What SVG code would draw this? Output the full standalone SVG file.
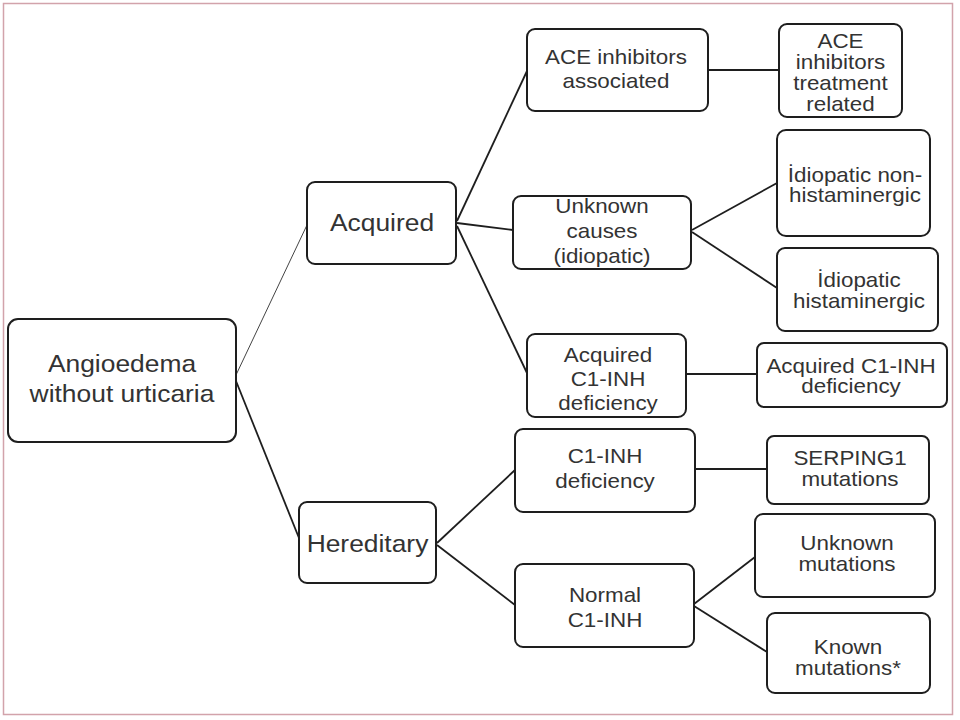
<svg xmlns="http://www.w3.org/2000/svg" width="960" height="720" viewBox="0 0 960 720">
<style>
.box{fill:#fff;stroke:#1e1e1e;stroke-width:2}
.ln{fill:none;stroke:#1e1e1e;stroke-width:1.8}
.thin{fill:none;stroke:#444;stroke-width:1}
.t1{font-family:"Liberation Sans",Arial,sans-serif;font-size:24px;fill:#333;text-anchor:middle}
.t2{font-family:"Liberation Sans",Arial,sans-serif;font-size:20px;fill:#333;text-anchor:middle}
</style>
<rect x="0" y="0" width="960" height="720" fill="#fff"/>
<rect x="3.5" y="3.5" width="949" height="711" fill="none" stroke="#d2a3ab" stroke-width="1.5"/>
<g id="connectors">
<line class="thin" x1="236" y1="375" x2="307" y2="225"/>
<line class="ln" x1="236" y1="381" x2="299" y2="538"/>
<line class="ln" x1="457" y1="221" x2="527" y2="71"/>
<line class="ln" x1="457" y1="223" x2="513" y2="230"/>
<line class="ln" x1="457" y1="226" x2="527" y2="373"/>
<line class="ln" x1="708" y1="70" x2="779" y2="70"/>
<line class="ln" x1="692" y1="230" x2="777" y2="183"/>
<line class="ln" x1="692" y1="232" x2="777" y2="288"/>
<line class="ln" x1="686" y1="374" x2="757" y2="374"/>
<line class="ln" x1="437" y1="543" x2="515" y2="470"/>
<line class="ln" x1="437" y1="545" x2="515" y2="605"/>
<line class="ln" x1="695" y1="469" x2="767" y2="469"/>
<line class="ln" x1="694" y1="604" x2="755" y2="557"/>
<line class="ln" x1="694" y1="606" x2="767" y2="652"/>
</g>
<g id="n-angioedema">
<rect class="box" x="8" y="319" width="228" height="123" rx="10"/>
<text class="t1" transform="translate(122 0) scale(1.1 1)"><tspan x="0" y="372">Angioedema</tspan><tspan x="0" y="402">without urticaria</tspan></text>
</g>
<g id="n-acquired">
<rect class="box" x="307" y="182" width="149" height="82" rx="8"/>
<text class="t1" transform="translate(382 0) scale(1.1 1)"><tspan x="0" y="231">Acquired</tspan></text>
</g>
<g id="n-hereditary">
<rect class="box" x="299" y="502" width="137" height="81" rx="8"/>
<text class="t1" transform="translate(367.5 0) scale(1.1 1)"><tspan x="0" y="552">Hereditary</tspan></text>
</g>
<g id="n-ace-assoc">
<rect class="box" x="527" y="29" width="181" height="82" rx="8"/>
<text class="t2" transform="translate(616 0) scale(1.12 1)"><tspan x="0" y="64">ACE inhibitors</tspan><tspan x="0" y="88">associated</tspan></text>
</g>
<g id="n-ace-treat">
<rect class="box" x="779" y="24" width="123" height="93" rx="8"/>
<text class="t2" transform="translate(840.5 0) scale(1.12 1)"><tspan x="0" y="48">ACE</tspan><tspan x="0" y="69">inhibitors</tspan><tspan x="0" y="90">treatment</tspan><tspan x="0" y="111">related</tspan></text>
</g>
<g id="n-unknown-causes">
<rect class="box" x="513" y="196" width="178" height="73" rx="8"/>
<text class="t2" transform="translate(602 0) scale(1.12 1)"><tspan x="0" y="213">Unknown</tspan><tspan x="0" y="238">causes</tspan><tspan x="0" y="263">(idiopatic)</tspan></text>
</g>
<g id="n-idio-non">
<rect class="box" x="777" y="130" width="153" height="106" rx="9"/>
<text class="t2" transform="translate(855 0) scale(1.12 1)"><tspan x="0" y="182">İdiopatic non-</tspan><tspan x="0" y="202">histaminergic</tspan></text>
</g>
<g id="n-idio-hist">
<rect class="box" x="777" y="248" width="161" height="83" rx="8"/>
<text class="t2" transform="translate(859 0) scale(1.12 1)"><tspan x="0" y="287">İdiopatic</tspan><tspan x="0" y="308">histaminergic</tspan></text>
</g>
<g id="n-acq-c1inh">
<rect class="box" x="527" y="334" width="159" height="83" rx="8"/>
<text class="t2" transform="translate(608 0) scale(1.12 1)"><tspan x="0" y="362">Acquired</tspan><tspan x="0" y="386">C1-INH</tspan><tspan x="0" y="410">deficiency</tspan></text>
</g>
<g id="n-acq-c1inh-def">
<rect class="box" x="757" y="343" width="190" height="64" rx="7"/>
<text class="t2" transform="translate(851 0) scale(1.12 1)"><tspan x="0" y="373">Acquired C1-INH</tspan><tspan x="0" y="393">deficiency</tspan></text>
</g>
<g id="n-c1inh-def">
<rect class="box" x="515" y="429" width="180" height="83" rx="8"/>
<text class="t2" transform="translate(605 0) scale(1.12 1)"><tspan x="0" y="463">C1-INH</tspan><tspan x="0" y="488">deficiency</tspan></text>
</g>
<g id="n-serping1">
<rect class="box" x="767" y="436" width="162" height="68" rx="7"/>
<text class="t2" transform="translate(850 0) scale(1.12 1)"><tspan x="0" y="465">SERPING1</tspan><tspan x="0" y="486">mutations</tspan></text>
</g>
<g id="n-normal">
<rect class="box" x="515" y="564" width="179" height="83" rx="8"/>
<text class="t2" transform="translate(605 0) scale(1.12 1)"><tspan x="0" y="602">Normal</tspan><tspan x="0" y="627">C1-INH</tspan></text>
</g>
<g id="n-unknown-mut">
<rect class="box" x="755" y="514" width="180" height="83" rx="8"/>
<text class="t2" transform="translate(847 0) scale(1.12 1)"><tspan x="0" y="550">Unknown</tspan><tspan x="0" y="571">mutations</tspan></text>
</g>
<g id="n-known-mut">
<rect class="box" x="767" y="613" width="163" height="80" rx="8"/>
<text class="t2" transform="translate(848 0) scale(1.12 1)"><tspan x="0" y="654">Known</tspan><tspan x="0" y="675">mutations*</tspan></text>
</g>
</svg>
